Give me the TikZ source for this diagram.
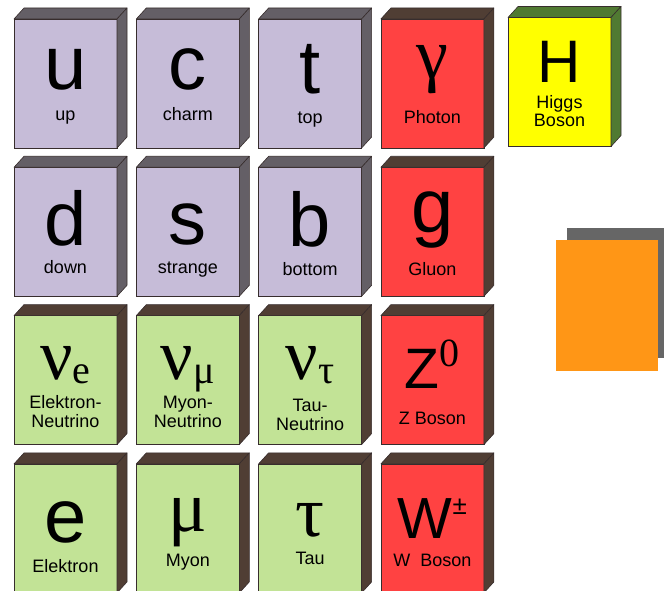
\documentclass[tikz,border=0pt]{standalone}
\usepackage{fontspec}
\setmainfont{Liberation Sans}
\newfontfamily\greekfont{Liberation Serif}
\usepackage{xcolor}
\usetikzlibrary{positioning}

\definecolor{quark}{RGB}{198,188,216}
\definecolor{qside}{RGB}{100,95,102}
\definecolor{lepton}{RGB}{194,227,150}
\definecolor{lside}{RGB}{80,62,52}
\definecolor{boson}{RGB}{255,66,66}
\definecolor{higgs}{RGB}{255,255,0}
\definecolor{hside}{RGB}{80,122,50}
\definecolor{edgecol}{RGB}{55,45,45}
\definecolor{cardorange}{RGB}{255,150,22}
\definecolor{cardshadow}{RGB}{102,102,102}

\begin{document}
\begin{tikzpicture}[x=1pt, y=1pt,
  front/.style={rectangle, draw=edgecol, line width=0.6pt, minimum width=103pt,
    minimum height=129pt, inner sep=0pt, outer sep=0pt},
  face/.style={draw=edgecol, line width=0.6pt, line join=round},
  sym/.style={anchor=base, inner sep=0pt, font=\fontsize{76}{76}\selectfont},
  gsym/.style={anchor=base, inner sep=0pt, font=\greekfont\fontsize{72}{72}\selectfont},
  sub/.style={font=\greekfont\fontsize{40}{40}\selectfont},
  lbl/.style={anchor=base, inner sep=0pt, align=center,
    font=\fontsize{18}{19}\selectfont}
]
  \useasboundingbox (0,0) rectangle (664,-591);

  % Blocks of the standard model
  \foreach \n/\c/\r/\f/\s in {up/0/0/quark/qside, charm/1/0/quark/qside,
      top/2/0/quark/qside, photon/3/0/boson/lside, down/0/1/quark/qside,
      strange/1/1/quark/qside, bottom/2/1/quark/qside, gluon/3/1/boson/lside,
      nue/0/2/lepton/lside, numu/1/2/lepton/lside, nutau/2/2/lepton/lside,
      zboson/3/2/boson/lside, elektron/0/3/lepton/lside, myon/1/3/lepton/lside,
      tau/2/3/lepton/lside, wboson/3/3/boson/lside}{
    \node[front, fill=\f] (\n) at ({65.5+122.3*\c}, {-83.5-148.3*\r}) {};
    \filldraw[face, fill=\s] (\n.north west) -- ++(10,11)
      -- ([shift={(10,11)}]\n.north east) -- (\n.north east) -- cycle;
    \filldraw[face, fill=\s] (\n.north east) -- ++(10,11)
      -- ([shift={(10,11)}]\n.south east) -- (\n.south east) -- cycle;
  }

  % Higgs
  \node[front, fill=higgs] (higgs) at (559.5, -82) {};
  \filldraw[face, fill=hside] (higgs.north west) -- ++(10,11)
    -- ([shift={(10,11)}]higgs.north east) -- (higgs.north east) -- cycle;
  \filldraw[face, fill=hside] (higgs.north east) -- ++(10,11)
    -- ([shift={(10,11)}]higgs.south east) -- (higgs.south east) -- cycle;

  % Quarks
  \node[sym] (up-s) at ([yshift=-71]up.north) {u};
  \node[lbl] (up-l) at ([yshift=-102]up.north) {up};
  \node[sym] (charm-s) at ([yshift=-71]charm.north) {c};
  \node[lbl] (charm-l) at ([yshift=-102]charm.north) {charm};
  \node[sym] (top-s) at ([yshift=-75]top.north) {t};
  \node[lbl] (top-l) at ([yshift=-105]top.north) {top};
  \node[sym] (down-s) at ([yshift=-78]down.north) {d};
  \node[lbl] (down-l) at ([yshift=-106]down.north) {down};
  \node[sym] (strange-s) at ([yshift=-77]strange.north) {s};
  \node[lbl] (strange-l) at ([yshift=-106]strange.north) {strange};
  \node[sym] (bottom-s) at ([yshift=-79]bottom.north) {b};
  \node[lbl] (bottom-l) at ([yshift=-108]bottom.north) {bottom};

  % Leptons
  \node[gsym] (nue-s) at ([yshift=-64]nue.north)
    {ν\raisebox{-4pt}{\greekfont\fontsize{40}{40}\selectfont e}};
  \node[lbl] (nue-l) at ([yshift=-112]nue.north) {Elektron-\\Neutrino};
  \node[gsym] (numu-s) at ([yshift=-64]numu.north)
    {ν\raisebox{-4pt}{\greekfont\fontsize{40}{40}\selectfont μ}};
  \node[lbl] (numu-l) at ([yshift=-112]numu.north) {Myon-\\Neutrino};
  \node[gsym] (nutau-s) at ([yshift=-64]nutau.north)
    {ν\raisebox{-4pt}{\greekfont\fontsize{40}{40}\selectfont τ}};
  \node[lbl] (nutau-l) at ([yshift=-115]nutau.north) {Tau-\\Neutrino};
  \node[sym] (elektron-s) at ([yshift=-79]elektron.north) {e};
  \node[lbl] (elektron-l) at ([yshift=-109]elektron.north) {Elektron};
  \node[gsym] (myon-s) at ([yshift=-68]myon.north) {μ};
  \node[lbl] (myon-l) at ([yshift=-103]myon.north) {Myon};
  \node[gsym] (tau-s) at ([yshift=-73]tau.north) {τ};
  \node[lbl] (tau-l) at ([yshift=-101]tau.north) {Tau};

  % Bosons
  \node[gsym] (photon-s) at ([yshift=-60]photon.north) {γ};
  \node[lbl] (photon-l) at ([yshift=-105]photon.north) {Photon};
  \node[sym] (gluon-s) at ([yshift=-65]gluon.north) {g};
  \node[lbl] (gluon-l) at ([yshift=-108]gluon.north) {Gluon};
  \node[sym, font=\fontsize{57}{57}\selectfont] (zboson-s)
    at ([yshift=-73]zboson.north)
    {Z\raisebox{22pt}{\greekfont\fontsize{40}{40}\selectfont 0}};
  \node[lbl] (zboson-l) at ([yshift=-109]zboson.north) {Z Boson};
  \node[sym, font=\fontsize{58}{58}\selectfont] (wboson-s)
    at ([yshift=-75]wboson.north)
    {W\raisebox{24pt}{\fontsize{26}{26}\selectfont ±}};
  \node[lbl] (wboson-l) at ([yshift=-103]wboson.north) {W\ \ Boson};
  \node[sym, font=\fontsize{60}{60}\selectfont] (higgs-s)
    at ([yshift=-65]higgs.north) {H};
  \node[lbl, font=\fontsize{18}{18}\selectfont] (higgs-l)
    at ([yshift=-109]higgs.north) {Higgs\\Boson};

  % Orange card
  \node[rectangle, fill=cardshadow, minimum width=97, minimum height=130,
    inner sep=0pt] (shade) at (615.5, -293) {};
  \node[rectangle, fill=cardorange, minimum width=102, minimum height=131,
    inner sep=0pt] (card) at (607, -305.5) {};
\end{tikzpicture}
\end{document}
